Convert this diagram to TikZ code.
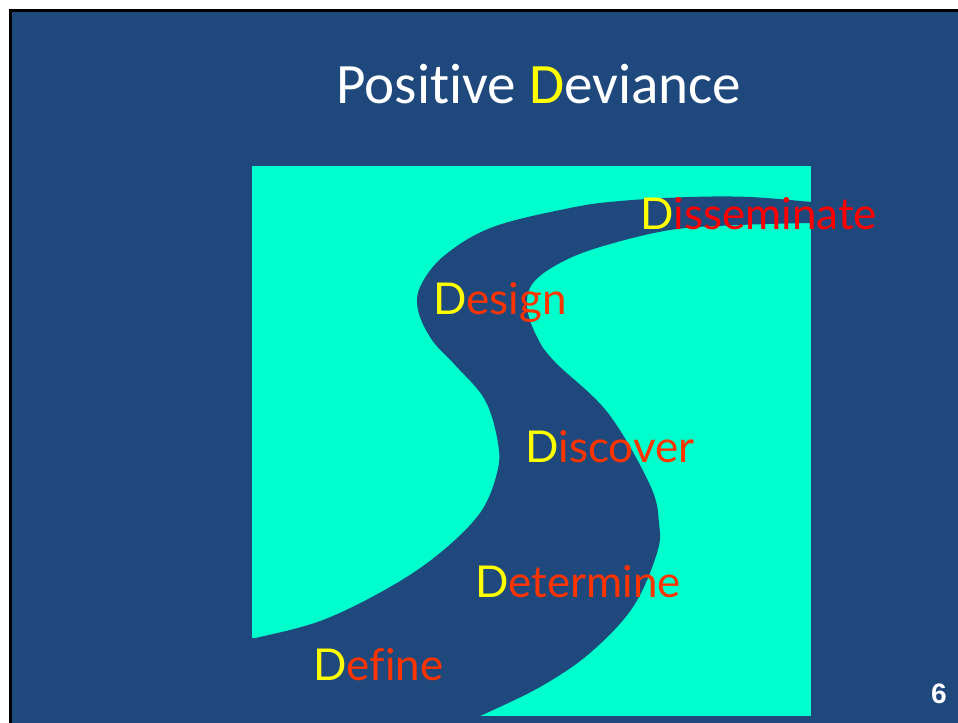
\documentclass[tikz,border=0pt]{standalone}
\usepackage{fontspec}
\setmainfont[Ligatures=NoCommon]{Carlito}
\newfontfamily\labelfont[Ligatures=NoCommon]{Lato}
\newfontfamily\numfont{Liberation Sans}
\usepackage{xcolor}
\usepackage{tikz}
\usetikzlibrary{positioning}

\definecolor{slideblue}{RGB}{31,73,125}
\definecolor{pathcyan}{RGB}{0,255,204}
\definecolor{dyellow}{RGB}{255,255,0}
\definecolor{stepred}{RGB}{255,51,0}

\begin{document}
\begin{tikzpicture}[
    x={(0.02cm,0)}, y={(0,-0.02cm)},
    title/.style={font=\fontsize{32.5}{34}\selectfont, text=white, anchor=base west, inner sep=0pt},
    stage/.style={font=\labelfont\fontsize{25}{27}\selectfont, text=stepred, anchor=base west, inner sep=0pt},
    pagenum/.style={font=\numfont\bfseries\fontsize{16}{18}\selectfont, text=white, anchor=base east, inner sep=0pt}
]
\useasboundingbox (0,0) rectangle (958,723);

% === Slide background ===
\fill[white] (0,0) rectangle (958,723);
\fill[slideblue] (10.5,10.5) rectangle (958,723);
\draw[black, line width=1.7pt] (10.5,723) -- (10.5,10.5) -- (958,10.5);

% === Cyan field ===
\fill[pathcyan] (252,166) rectangle (811,716);

% === S-shaped road ===
\fill[slideblue]
    plot[smooth, tension=0.6] coordinates {
        (811,202) (750,197) (690,197) (620,201) (570,208) (493,227) (445,255)
        (421,285) (418,310) (432,340) (456,366) (485,400) (498,443)
        (497,473) (480,513) (440,553) (390,587) (323,620) (260,637) (252,637)}
    -- (252,716) -- (480,716)
    -- plot[smooth, tension=0.6] coordinates {
        (480,716) (540,687) (590,653) (633,607) (657,553) (659,523)
        (650,485) (608,413) (555,362) (537,337) (527,307) (533,283)
        (560,263) (600,247) (670,230) (740,225) (811,223)}
    -- cycle;

% === Title ===
\node[title] (head) at (336,104) {Positive \textcolor{dyellow}{D}eviance};

% === Stages ===
\node[stage, text=red] (dissem) at (640,230) {\textcolor{dyellow}{D}isseminate};
\node[stage] (design)   at (433,315) {\textcolor{dyellow}{D}esign};
\node[stage] (discover) at (525,462) {\textcolor{dyellow}{D}iscover};
\node[stage] (determ)   at (475,597) {\textcolor{dyellow}{D}etermine};
\node[stage] (define)   at (313,680) {\textcolor{dyellow}{D}efine};

% === Page number ===
\node[pagenum] (num) at (947,703) {6};

\end{tikzpicture}
\end{document}
